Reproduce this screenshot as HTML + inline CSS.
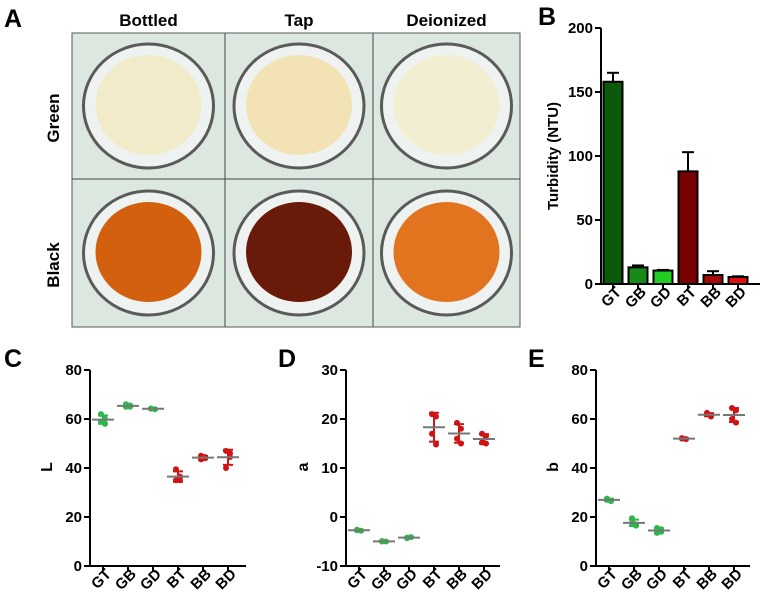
<!DOCTYPE html>
<html><head><meta charset="utf-8"><style>
body{margin:0;background:#fff;width:760px;height:606px;overflow:hidden}
svg{font-family:"Liberation Sans",Arial,sans-serif;font-weight:bold}
</style></head><body>
<svg id="fig" width="760" height="606" viewBox="0 0 760 606">
<g id="pa"></g>
<g id="pb"></g>
<g id="pc"></g>
<g id="pd"></g>
<g id="pe"></g>
</svg>
<script>
const cats=["GT","GB","GD","BT","BB","BD"];
const turbValues=[158,13,10.5,88,7,5.5];
const turbErrors=[7,1.5,0.5,15,3,0.5];
const turbTicks=[0,50,100,150,200];
const lPoints=[[62,58,59,60],[66,65,65,65.5],[64.3,64,64.2],[39.5,35,35,36.5],[45,44,43.5,44.5],[47,46,40,44.5]];
const lTicks=[0,20,40,60,80];
const aPoints=[[-2.7,-2.8,-2.6],[-4.9,-5,-5],[-4.2,-4.1,-4.3],[21,20.5,17,14.8],[19.2,18,16,15],[17,16.5,15.2,15]];
const aTicks=[-10,0,10,20,30];
const bPoints=[[27.5,26.5,27],[19.5,17,17.5,16.5],[15.5,14,13.5,15],[52,51.8,52.2],[62,61,62.5,61.5],[64.5,63.5,60,58.5]];
const bTicks=[0,20,40,60,80];

const NS="http://www.w3.org/2000/svg";
function mk(p,t,a,txt){const e=document.createElementNS(NS,t);for(const k in a)e.setAttribute(k,a[k]);if(txt!==undefined)e.textContent=txt;p.appendChild(e);return e;}

// Panel A
(function(){
const g=document.getElementById('pa');
const l=mk(g,'text',{x:4,y:27,'font-size':25},'A');


const cols=["Bottled","Tap","Deionized"],cx=[148.5,299,446.5],cy=[106,253];
const liquids=[["#f1ebc9","#f2e2b4","#f1eed2"],["#d2600f","#6a1a08","#e27420"]];
mk(g,'rect',{x:72,y:33,width:448,height:294,fill:"#dce7df",stroke:"#555","stroke-width":1});
mk(g,'line',{x1:225,y1:33,x2:225,y2:327,stroke:"#444"});
mk(g,'line',{x1:373,y1:33,x2:373,y2:327,stroke:"#444"});
mk(g,'line',{x1:72,y1:179,x2:520,y2:179,stroke:"#444"});
cols.forEach((c,i)=>{const t=mk(g,'text',{x:cx[i],y:26,'font-size':17,'text-anchor':'middle'},c);

});
["Green","Black"].forEach((r,j)=>{const t=mk(g,'text',{x:0,y:0,'font-size':17,'text-anchor':'middle',transform:`translate(59,${cy[j]+12}) rotate(-90)`},r);

});
for(let j=0;j<2;j++)for(let i=0;i<3;i++){
const b=mk(g,'g',{});


mk(b,'ellipse',{cx:cx[i],cy:cy[j],rx:65,ry:62,fill:"#eef3f2",stroke:"#5a5a5a","stroke-width":3});
mk(b,'ellipse',{cx:cx[i],cy:cy[j]-1,rx:53,ry:50,fill:liquids[j][i]});
}
})();

// Panel B
(function(){
const g=document.getElementById('pb');
const x0=601,yB=284,yT=28,xs=i=>613+i*25,ys=v=>yB-(v/200)*(yB-yT);
const colors=["#0b5a0b","#188a18","#23cc23","#780000","#a80a0a","#e01010"];
const l=mk(g,'text',{x:538,y:25,'font-size':25},'B');


turbValues.forEach((v,i)=>{
const e=turbErrors[i];
const el=mk(g,'line',{x1:xs(i),x2:xs(i),y1:ys(v),y2:ys(v+e),stroke:"#000","stroke-width":2});


mk(g,'line',{x1:xs(i)-6,x2:xs(i)+6,y1:ys(v+e),y2:ys(v+e),stroke:"#000","stroke-width":2});
const r=mk(g,'rect',{x:xs(i)-9.5,y:ys(v),width:19,height:yB-ys(v),fill:colors[i],stroke:"#000","stroke-width":2});


});
axes(g,x0,760,yB,yT,turbTicks,ys,xs);
const t=mk(g,'text',{x:0,y:0,'font-size':15,'text-anchor':'middle',transform:`translate(558,156) rotate(-90)`},'Turbidity (NTU)');


})();

function axes(g,x0,x1,yB,yT,ticks,ys,xs){
const ax=mk(g,'path',{d:`M${x0},${yT}V${yB}H${x1}`,fill:"none",stroke:"#000","stroke-width":2});


ticks.forEach(v=>{
mk(g,'line',{x1:x0-6,x2:x0,y1:ys(v),y2:ys(v),stroke:"#000","stroke-width":2});
const t=mk(g,'text',{x:x0-8,y:ys(v)+5,'font-size':15,'text-anchor':'end'},String(v));


});
cats.forEach((c,i)=>{
mk(g,'line',{x1:xs(i),x2:xs(i),y1:yB,y2:yB+5,stroke:"#000","stroke-width":2});
const t=mk(g,'text',{x:0,y:0,'font-size':15,'text-anchor':'end',transform:`translate(${xs(i)+9},${yB+9}) rotate(-45)`},c);


});
}

function scatter(id,letter,lx,x0,x1,data,ticks,title){
const g=document.getElementById(id);
const yB=566,yT=370,mn=ticks[0],mx=ticks[ticks.length-1];
const xs=i=>x0+13+i*25,ys=v=>yB-(v-mn)/(mx-mn)*(yB-yT);
const l=mk(g,'text',{x:lx,y:367,'font-size':25},letter);


axes(g,x0,x1,yB,yT,ticks,ys,xs);
const t=mk(g,'text',{x:0,y:0,'font-size':16,'text-anchor':'middle',transform:`translate(${x0-38},467) rotate(-90)`},title);


data.forEach((pts,i)=>{
const col=i<3?"#2db84a":"#d01414";
const m=pts.reduce((a,b)=>a+b,0)/pts.length;
const sd=Math.sqrt(pts.reduce((a,b)=>a+(b-m)*(b-m),0)/(pts.length-1));
const grp=mk(g,'g',{});


pts.forEach((v,k)=>{
const c=mk(grp,'circle',{cx:xs(i)+(k%2?2:-2),cy:ys(v),r:3,fill:col});


});
mk(grp,'line',{x1:xs(i),x2:xs(i),y1:ys(m-sd),y2:ys(m+sd),stroke:col,"stroke-width":2});
mk(grp,'line',{x1:xs(i)-5,x2:xs(i)+5,y1:ys(m-sd),y2:ys(m-sd),stroke:col,"stroke-width":2});
mk(grp,'line',{x1:xs(i)-5,x2:xs(i)+5,y1:ys(m+sd),y2:ys(m+sd),stroke:col,"stroke-width":2});
const ml=mk(grp,'line',{x1:xs(i)-11,x2:xs(i)+11,y1:ys(m),y2:ys(m),stroke:"#777","stroke-width":2});


});
}
scatter('pc','C',4,90,246,lPoints,lTicks,'L');
scatter('pd','D',278,346,500,aPoints,aTicks,'a');
scatter('pe','E',528,596,750,bPoints,bTicks,'b');
</script>
</body></html>
